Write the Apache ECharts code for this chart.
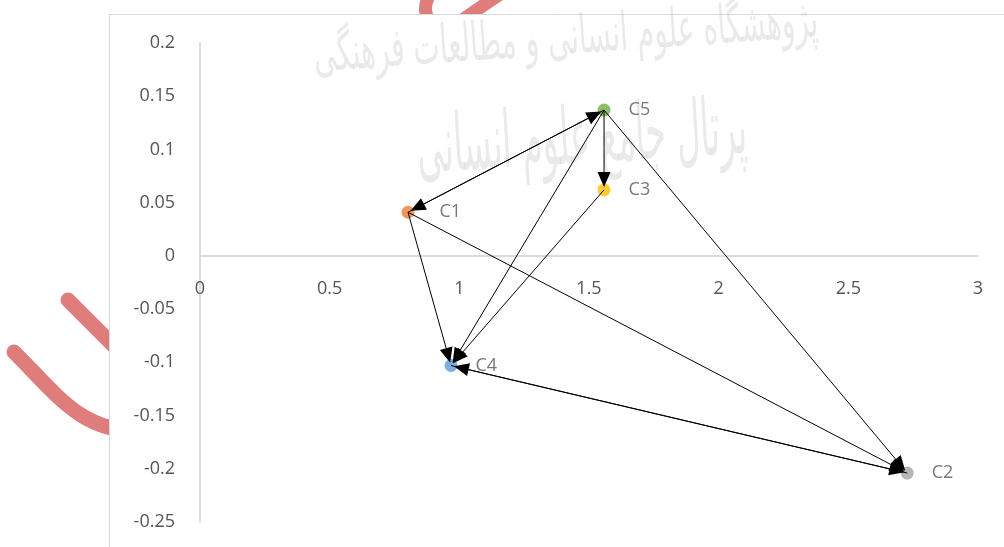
<!DOCTYPE html>
<html>
<head>
<meta charset="utf-8">
<script src="https://cdn.jsdelivr.net/npm/echarts@6/dist/echarts.min.js"></script>
<style>
  html, body { margin: 0; padding: 0; background: #fff; }
  #main { width: 1004px; height: 547px; }
</style>
</head>
<body>
<div id="main"></div>
<script>
// points
var names = ['C1', 'C2', 'C3', 'C4', 'C5'];
var xs = [0.802, 2.727, 1.558, 0.968, 1.558];
var ys = [0.041, -0.204, 0.062, -0.103, 0.137];
// arrows: [from, to]
var edges = [
    ['C1', 'C5'], ['C5', 'C1'],
    ['C5', 'C3'], ['C5', 'C4'], ['C3', 'C4'], ['C5', 'C2'],
    ['C1', 'C4'], ['C1', 'C2'],
    ['C2', 'C4'], ['C4', 'C2']
];
var colors = { C1: '#ED7D31', C2: '#A5A5A5', C3: '#FFC000', C4: '#5B9BD5', C5: '#70AD47' };

var xMin = 0, xMax = 3, yMin = -0.25, yMax = 0.2;
var gridTop = 43, gridBottom = 25;

var font = '"Open Sans", "Liberation Sans", sans-serif';
var txt = '#555555';

function idx(n) { return names.indexOf(n); }

var pts = names.map(function (n, i) {
    return {
        name: n,
        value: [xs[i], ys[i]],
        itemStyle: { color: colors[n] },
        label: { distance: n === 'C1' ? 25 : 18 }
    };
});
var arrows = edges.map(function (e) {
    var a = idx(e[0]), b = idx(e[1]);
    return [xs[a], ys[a], xs[b], ys[b]];
});

// x axis sits at y = 0 : shift it up from the bottom of the grid
var plotH = 547 - gridTop - gridBottom;
var xAxisOffset = -plotH * (0 - yMin) / (yMax - yMin);

function renderArrow(params, api) {
    var a = api.coord([api.value(0), api.value(1)]);
    var b = api.coord([api.value(2), api.value(3)]);
    var dx = b[0] - a[0], dy = b[1] - a[1];
    var len = Math.sqrt(dx * dx + dy * dy);
    var ux = dx / len, uy = dy / len;
    var back = 3, headLen = 15, hw = 6.5;
    var tip = [b[0] - ux * back, b[1] - uy * back];
    var base = [tip[0] - ux * headLen, tip[1] - uy * headLen];
    var nx = -uy, ny = ux;
    return {
        type: 'group',
        children: [{
            type: 'line',
            shape: { x1: a[0], y1: a[1], x2: base[0] + ux * 2, y2: base[1] + uy * 2 },
            style: { stroke: '#000', lineWidth: 1 }
        }, {
            type: 'polygon',
            shape: { points: [tip, [base[0] + nx * hw, base[1] + ny * hw], [base[0] - nx * hw, base[1] - ny * hw]] },
            style: { fill: '#000' }
        }]
    };
}

var red = '#df7c7c';
var myChart = echarts.init(document.getElementById('main'));
var option = {
    animation: false,
    backgroundColor: '#fff',
    graphic: [
        // red strokes of the page behind the chart
        { type: 'line', z: 0, shape: { x1: 68, y1: 300, x2: 140, y2: 372 },
          style: { stroke: red, lineWidth: 15, lineCap: 'round' } },
        { type: 'bezierCurve', z: 0,
          shape: { x1: 14, y1: 352, cpx1: 60, cpy1: 398, cpx2: 80, cpy2: 430, x2: 140, y2: 432 },
          style: { stroke: red, lineWidth: 15, lineCap: 'round', fill: null } },
        { type: 'bezierCurve', z: 0,
          shape: { x1: 436, y1: -15, cpx1: 420, cpy1: 5, cpx2: 423, cpy2: 20, x2: 440, y2: 30 },
          style: { stroke: red, lineWidth: 13, lineCap: 'round', fill: null } },
        { type: 'line', z: 0, shape: { x1: 462, y1: 20, x2: 506, y2: -10 },
          style: { stroke: red, lineWidth: 13, lineCap: 'round' } },
        // chart area
        { type: 'rect', z: 1, shape: { x: 109.5, y: 14.5, width: 1000, height: 600 },
          style: { fill: '#fff', stroke: '#d9d9d9', lineWidth: 1 } },
        // watermark
        { type: 'text', z: 2, x: 566, y: 40, rotation: 0.07, scaleY: 1.9,
          style: { text: 'پژوهشگاه علوم انسانی و مطالعات فرهنگی', fill: 'rgba(150,150,150,0.2)',
                   font: '28px "DejaVu Sans"', align: 'center', verticalAlign: 'middle' } },
        { type: 'text', z: 2, x: 582, y: 142, rotation: 0.06, scaleY: 2.4,
          style: { text: 'پرتال جامع علوم انسانی', fill: 'rgba(150,150,150,0.2)',
                   font: '33px "DejaVu Sans"', align: 'center', verticalAlign: 'middle' } }
    ],
    grid: { left: 200, right: 26, top: gridTop, bottom: gridBottom, outerBoundsMode: 'none', containLabel: false },
    xAxis: {
        type: 'value', min: xMin, max: xMax, interval: 0.5, z: 5,
        offset: xAxisOffset,
        axisLine: { onZero: false, lineStyle: { color: '#d0d0d0', width: 1.5 } },
        axisTick: { show: false },
        splitLine: { show: false },
        axisLabel: { color: txt, fontSize: 18, fontFamily: font, margin: 24 }
    },
    yAxis: {
        type: 'value', min: yMin, max: yMax, interval: 0.05, z: 5,
        axisLine: { show: true, onZero: false, lineStyle: { color: '#d0d0d0', width: 1.5 } },
        axisTick: { show: false },
        splitLine: { show: false },
        axisLabel: { color: txt, fontSize: 18, fontFamily: font, margin: 25 }
    },
    series: [{
        type: 'scatter',
        z: 6,
        symbolSize: 13,
        label: {
            show: true, position: 'right', formatter: '{b}',
            color: txt, fontSize: 18, fontFamily: font
        },
        data: pts
    }, {
        type: 'custom',
        coordinateSystem: 'cartesian2d',
        z: 7,
        clip: false,
        encode: { x: [0, 2], y: [1, 3] },
        renderItem: renderArrow,
        data: arrows
    }]
};
myChart.setOption(option);
</script>
</body>
</html>
